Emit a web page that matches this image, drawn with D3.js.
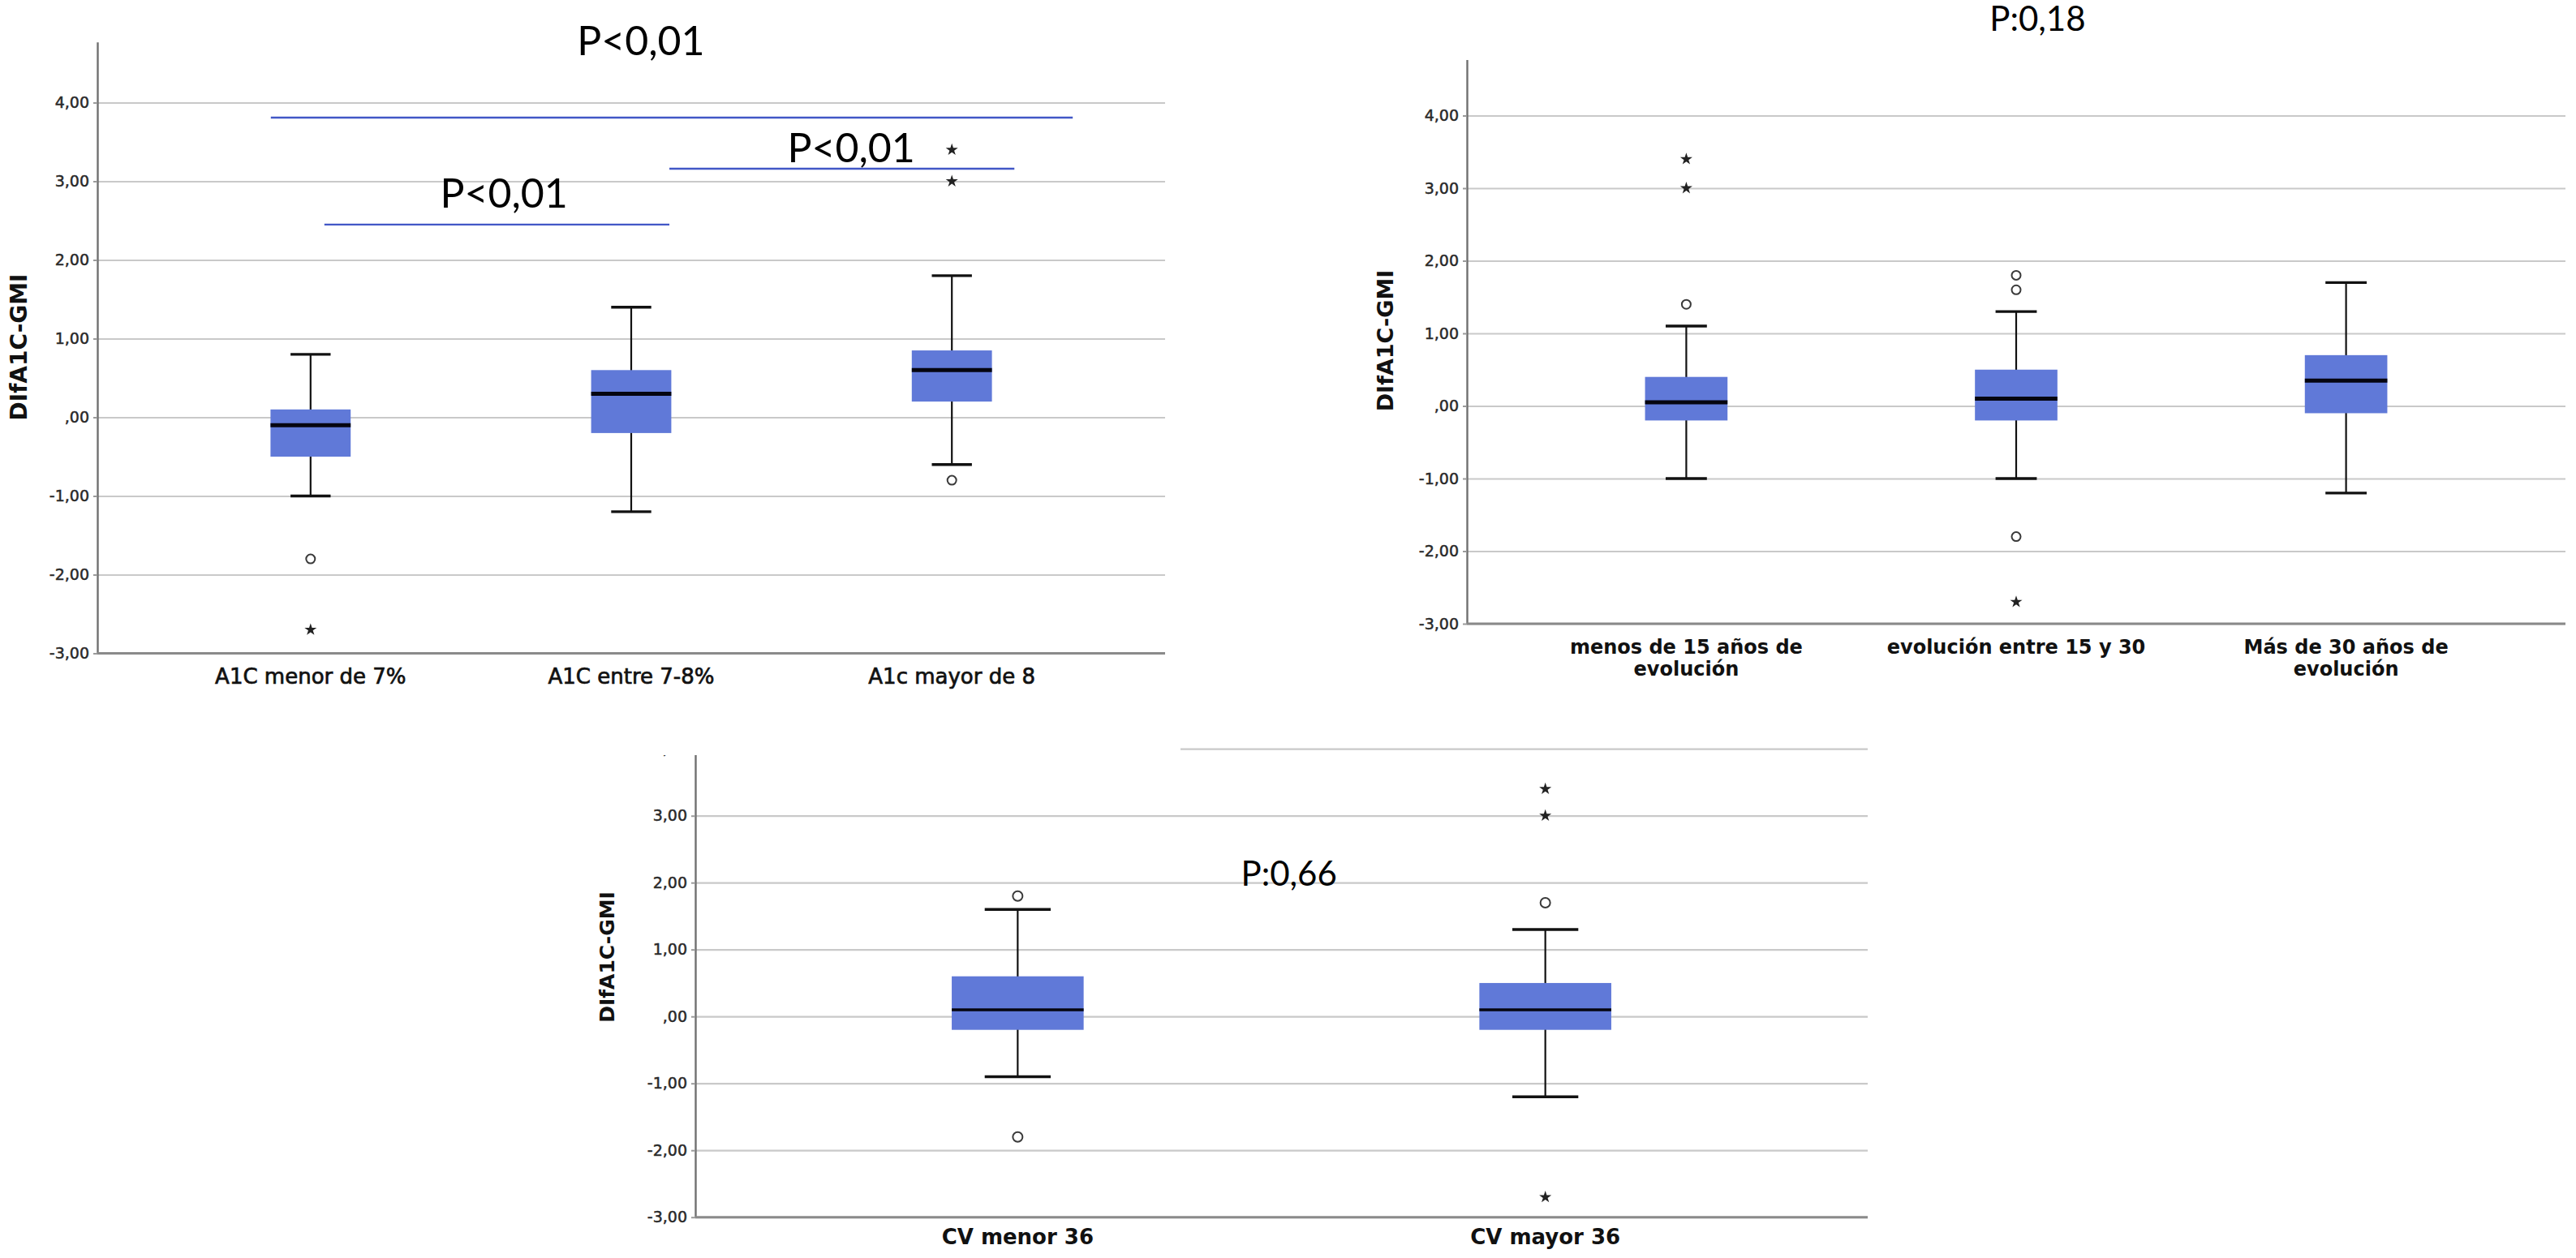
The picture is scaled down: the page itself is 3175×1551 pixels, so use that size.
<!DOCTYPE html>
<html>
<head>
<meta charset="utf-8">
<script src="https://cdn.jsdelivr.net/npm/d3@7"></script>
<style>
  body { margin: 0; background: #fff; }
  svg { display: block; }
</style>
</head>
<body>
<div id="chart"></div>
<script>
// shared y axis
var yTicks = [-3, -2, -1, 0, 1, 2, 3, 4];
var yTickLabels = ["-3,00", "-2,00", "-1,00", ",00", "1,00", "2,00", "3,00", "4,00"];
var yTitle = "DIfA1C-GMI";

// panel 1: A1C groups
var a1cGroups = ["A1C menor de 7%", "A1C entre 7-8%", "A1c mayor de 8"];
var a1cLow    = [-1.0, -1.2, -0.6];
var a1cQ1     = [-0.5, -0.2, 0.2];
var a1cMedian = [-0.1, 0.3, 0.6];
var a1cQ3     = [0.1, 0.6, 0.85];
var a1cHigh   = [0.8, 1.4, 1.8];
var a1cCircles = [[-1.8], [], [-0.8]];
var a1cStars   = [[-2.7], [], [3.0, 3.4]];
// comparison brackets (start / end in category index units, y value)
var a1cBracketFrom  = [-0.124, 0.043, 1.119];
var a1cBracketTo    = [2.377, 1.119, 2.195];
var a1cBracketValue = [3.81, 2.45, 3.16];
var a1cPText  = ["P<0,01", "P<0,01", "P<0,01"];
var a1cPIndex = [1.03, 0.603, 1.686];
var a1cPValue = [4.6, 2.67, 3.24];

// panel 2: years of evolution
var evoGroups = [["menos de 15 años de", "evolución"], ["evolución entre 15 y 30"], ["Más de 30 años de", "evolución"]];
var evoLow    = [-1.0, -1.0, -1.2];
var evoQ1     = [-0.2, -0.2, -0.1];
var evoMedian = [0.05, 0.1, 0.35];
var evoQ3     = [0.4, 0.5, 0.7];
var evoHigh   = [1.1, 1.3, 1.7];
var evoCircles = [[1.4], [1.8, 1.6, -1.8], []];
var evoStars   = [[3.0, 3.4], [-2.7], []];
var evoPText  = ["P:0,18"];
var evoPIndex = [1.065];
var evoPValue = [5.17];

// panel 3: CV groups
var cvGroups = ["CV menor 36", "CV mayor 36"];
var cvLow    = [-0.9, -1.2];
var cvQ1     = [-0.2, -0.2];
var cvMedian = [0.1, 0.1];
var cvQ3     = [0.6, 0.5];
var cvHigh   = [1.6, 1.3];
var cvCircles = [[1.8, -1.8], [1.7]];
var cvStars   = [[], [3.0, 3.4, -2.7]];
var cvPText  = ["P:0,66"];
var cvPIndex = [0.514];
var cvPValue = [1.95];

var svg = d3.select("#chart").append("svg")
  .attr("width", 3175)
  .attr("height", 1551);

// bottom panel is partly hidden by the upper-left picture
var clip = svg.append("defs").append("clipPath").attr("id", "clip3");
clip.append("rect").attr("x", 0).attr("y", 931).attr("width", 3175).attr("height", 700);
clip.append("rect").attr("x", 1455).attr("y", 0).attr("width", 1800).attr("height", 1000);

function drawPanel(opt) {
  var g = svg.append("g");
  if (opt.clip) g.attr("clip-path", "url(#" + opt.clip + ")");

  var n = opt.low.length;
  var idx = d3.range(n);

  var x = d3.scalePoint()
    .domain(idx)
    .range([opt.x0, opt.x1])
    .padding(opt.pad);
  var xIdx = d3.scaleLinear().domain([0, n - 1]).range([x(0), x(n - 1)]);

  var y = d3.scaleLinear()
    .domain([-3, 4.77])
    .range([opt.yBottom, opt.yBottom - 7.77 * opt.ppu]);

  var boxW = x.step() * 0.25;
  var capW = x.step() * 0.125;

  // gridlines
  g.append("g")
    .attr("transform", `translate(${opt.x0},0)`)
    .call(d3.axisLeft(y).tickValues(yTicks).tickSize(-(opt.x1 - opt.x0)).tickFormat(""))
    .call(s => s.select(".domain").remove())
    .call(s => s.selectAll("line").attr("stroke", "#c9c9c9").attr("stroke-width", 2.2));

  // y axis with labels
  g.append("g")
    .attr("transform", `translate(${opt.x0},0)`)
    .call(d3.axisLeft(y).tickValues(yTicks).tickSize(5).tickSizeOuter(0).tickPadding(5)
      .tickFormat((d, i) => yTickLabels[i]))
    .call(s => s.select(".domain").attr("stroke", "#707070").attr("stroke-width", 2.4))
    .call(s => s.selectAll("line").attr("stroke", "#9a9a9a").attr("stroke-width", 2))
    .call(s => s.selectAll("text")
      .attr("font-family", "DejaVu Sans")
      .attr("font-size", 19)
      .attr("fill", "#2a2a2a")
      .attr("stroke", "#2a2a2a")
      .attr("stroke-width", 0.5));

  // x axis line
  g.append("line")
    .attr("x1", opt.x0).attr("x2", opt.x1)
    .attr("y1", y(-3)).attr("y2", y(-3))
    .attr("stroke", "#8a8a8a")
    .attr("stroke-width", 3);

  // y title
  g.append("text")
    .attr("transform", `translate(${opt.titleX},${opt.titleY}) rotate(-90)`)
    .attr("text-anchor", "middle")
    .attr("dy", "0.36em")
    .attr("font-family", "DejaVu Sans")
    .attr("font-weight", "bold")
    .attr("font-size", opt.titleSize)
    .attr("fill", "#111")
    .text(yTitle);

  // whiskers
  var boxes = g.append("g").selectAll("g")
    .data(idx)
    .join("g");

  boxes.append("line")
    .attr("x1", i => x(i)).attr("x2", i => x(i))
    .attr("y1", i => y(opt.high[i])).attr("y2", i => y(opt.low[i]))
    .attr("stroke", "#111").attr("stroke-width", 2.2);

  boxes.selectAll("line.cap")
    .data(i => [[i, opt.high[i]], [i, opt.low[i]]])
    .join("line")
    .attr("class", "cap")
    .attr("x1", d => x(d[0]) - capW / 2).attr("x2", d => x(d[0]) + capW / 2)
    .attr("y1", d => y(d[1])).attr("y2", d => y(d[1]))
    .attr("stroke", "#111").attr("stroke-width", 3.4);

  // boxes
  boxes.append("rect")
    .attr("x", i => x(i) - boxW / 2)
    .attr("width", boxW)
    .attr("y", i => y(opt.q3[i]))
    .attr("height", i => y(opt.q1[i]) - y(opt.q3[i]))
    .attr("fill", "#6079d8");

  boxes.append("line")
    .attr("x1", i => x(i) - boxW / 2).attr("x2", i => x(i) + boxW / 2)
    .attr("y1", i => y(opt.median[i])).attr("y2", i => y(opt.median[i]))
    .attr("stroke", "#050510").attr("stroke-width", opt.medianW);

  // outliers
  boxes.selectAll("circle")
    .data(i => opt.circles[i].map(v => [i, v]))
    .join("circle")
    .attr("cx", d => x(d[0]))
    .attr("cy", d => y(d[1]))
    .attr("r", opt.circleR)
    .attr("fill", "none")
    .attr("stroke", "#3a3a3a")
    .attr("stroke-width", 2);

  var star = d3.symbol(d3.symbolStar).size(opt.starSize);
  boxes.selectAll("path.star")
    .data(i => opt.stars[i].map(v => [i, v]))
    .join("path")
    .attr("class", "star")
    .attr("d", star)
    .attr("transform", d => `translate(${x(d[0])},${y(d[1])})`)
    .attr("fill", "#222");

  // category labels
  var labels = g.append("g").selectAll("text")
    .data(idx)
    .join("text")
    .attr("text-anchor", "middle")
    .attr("font-family", "DejaVu Sans")
    .attr("font-weight", opt.labelWeight)
    .attr("font-size", opt.labelSize)
    .attr("fill", "#111")
    .attr("stroke", "#111")
    .attr("stroke-width", opt.labelStroke);
  labels.selectAll("tspan")
    .data(i => {
      var lines = Array.isArray(opt.groups[i]) ? opt.groups[i] : [opt.groups[i]];
      return lines.map((t, k) => ({ i: i, k: k, t: t }));
    })
    .join("tspan")
    .attr("x", d => x(d.i))
    .attr("y", d => opt.labelY + d.k * opt.labelLine)
    .text(d => d.t);

  // brackets
  if (opt.bracketFrom) {
    g.append("g").selectAll("line")
      .data(opt.bracketFrom.map((f, k) => k))
      .join("line")
      .attr("x1", k => xIdx(opt.bracketFrom[k]))
      .attr("x2", k => xIdx(opt.bracketTo[k]))
      .attr("y1", k => y(opt.bracketValue[k]))
      .attr("y2", k => y(opt.bracketValue[k]))
      .attr("stroke", "#4257c6")
      .attr("stroke-width", 2.4);
  }

  // p values
  g.append("g").selectAll("text")
    .data(opt.pText.map((t, k) => k))
    .join("text")
    .attr("x", k => xIdx(opt.pIndex[k]))
    .attr("y", k => y(opt.pValue[k]))
    .attr("text-anchor", "middle")
    .attr("font-family", "Lato")
    .attr("font-size", opt.pSize)
    .attr("fill", "#000")
    .text(k => opt.pText[k]);
}

drawPanel({
  groups: a1cGroups, low: a1cLow, q1: a1cQ1, median: a1cMedian, q3: a1cQ3, high: a1cHigh,
  circles: a1cCircles, stars: a1cStars,
  bracketFrom: a1cBracketFrom, bracketTo: a1cBracketTo, bracketValue: a1cBracketValue,
  pText: a1cPText, pIndex: a1cPIndex, pValue: a1cPValue, pSize: 50,
  x0: 120, x1: 1436, pad: 0.665, yBottom: 805.5, ppu: 97,
  titleX: 23, titleY: 428, titleSize: 28,
  labelY: 843, labelLine: 28, labelSize: 26, labelWeight: "normal", labelStroke: 0.7,
  medianW: 5, circleR: 5.5, starSize: 70
});

drawPanel({
  groups: evoGroups, low: evoLow, q1: evoQ1, median: evoMedian, q3: evoQ3, high: evoHigh,
  circles: evoCircles, stars: evoStars,
  pText: evoPText, pIndex: evoPIndex, pValue: evoPValue, pSize: 42,
  x0: 1808, x1: 3162, pad: 0.665, yBottom: 769, ppu: 89.5,
  titleX: 1707, titleY: 420, titleSize: 27,
  labelY: 806, labelLine: 27, labelSize: 24, labelWeight: "bold", labelStroke: 0,
  medianW: 5, circleR: 5.5, starSize: 70
});

drawPanel({
  groups: cvGroups, low: cvLow, q1: cvQ1, median: cvMedian, q3: cvQ3, high: cvHigh,
  circles: cvCircles, stars: cvStars,
  pText: cvPText, pIndex: cvPIndex, pValue: cvPValue, pSize: 42,
  x0: 857, x1: 2302, pad: 0.611, yBottom: 1500.7, ppu: 82.5,
  titleX: 748, titleY: 1180, titleSize: 25,
  labelY: 1534, labelLine: 27, labelSize: 26, labelWeight: "bold", labelStroke: 0,
  medianW: 3.5, circleR: 6, starSize: 70,
  clip: "clip3"
});
</script>
</body>
</html>
